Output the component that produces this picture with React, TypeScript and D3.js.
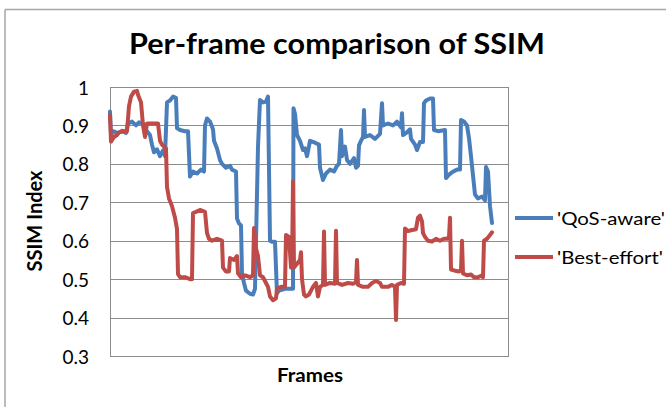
import * as d3 from "d3";

// SSIM per frame as [frame, ssim] breakpoints
const qosAware: [number, number][] = [
  [0, 0.936], [1, 0.875], [3, 0.885], [8, 0.88], [12, 0.886], [16, 0.88], [18, 0.905],
  [22, 0.91], [26, 0.9], [29, 0.908], [33, 0.905], [35, 0.89], [37, 0.885], [40, 0.875],
  [42, 0.85], [44, 0.83], [47, 0.838], [50, 0.82], [53, 0.835], [55, 0.82], [57, 0.96],
  [60, 0.965], [63, 0.975], [66, 0.972], [67, 0.893], [70, 0.888], [75, 0.885], [78, 0.885],
  [80, 0.767], [83, 0.78], [87, 0.775], [91, 0.785], [94, 0.78], [95, 0.9], [97, 0.918],
  [100, 0.91], [103, 0.89], [104, 0.86], [107, 0.84], [110, 0.81], [112, 0.8], [116, 0.79],
  [120, 0.795], [122, 0.785], [126, 0.78], [127, 0.658], [129, 0.645], [131, 0.64],
  [132, 0.515], [134, 0.49], [136, 0.47], [140, 0.462], [143, 0.46], [145, 0.475],
  [148, 0.845], [150, 0.966], [153, 0.96], [156, 0.962], [158, 0.975], [160, 0.6],
  [162, 0.597], [165, 0.597], [167, 0.463], [169, 0.47], [175, 0.475], [183, 0.475],
  [183.5, 0.945], [185, 0.93], [187, 0.875], [190, 0.86], [193, 0.836], [195, 0.84],
  [197, 0.82], [200, 0.86], [205, 0.855], [209, 0.85], [210, 0.79], [213, 0.758],
  [216, 0.775], [220, 0.785], [224, 0.78], [227, 0.795], [229, 0.8], [231, 0.888],
  [232, 0.82], [235, 0.845], [237, 0.81], [240, 0.8], [244, 0.815], [246, 0.79],
  [248, 0.795], [249, 0.848], [251, 0.86], [253, 0.87], [254, 0.94], [255, 0.87],
  [260, 0.875], [265, 0.865], [270, 0.878], [272, 0.958], [273, 0.9], [278, 0.905],
  [283, 0.9], [287, 0.91], [291, 0.895], [292, 0.932], [293, 0.875], [296, 0.88],
  [300, 0.89], [301, 0.865], [305, 0.85], [307, 0.836], [310, 0.857], [313, 0.857],
  [314, 0.958], [316, 0.965], [320, 0.97], [323, 0.97], [324, 0.888], [328, 0.885],
  [335, 0.888], [336, 0.763], [339, 0.772], [342, 0.778], [347, 0.785], [350, 0.785],
  [351, 0.914], [354, 0.91], [357, 0.9], [359, 0.867], [361, 0.82], [363, 0.77],
  [365, 0.72], [368, 0.71], [372, 0.715], [375, 0.705], [376, 0.792], [378, 0.78],
  [380, 0.69], [382, 0.646],
];

const bestEffort: [number, number][] = [
  [0, 0.927], [1, 0.858], [4, 0.87], [7, 0.875], [9, 0.882], [14, 0.885], [17, 0.885],
  [19, 0.95], [21, 0.975], [24, 0.988], [27, 0.99], [28, 0.98], [31, 0.96], [33, 0.9],
  [35, 0.87], [37, 0.905], [42, 0.905], [48, 0.905], [50, 0.86], [52, 0.85], [56, 0.84],
  [57, 0.74], [59, 0.71], [62, 0.69], [65, 0.66], [67, 0.63], [68, 0.513], [70, 0.505],
  [75, 0.505], [80, 0.5], [82, 0.5], [83, 0.672], [86, 0.675], [90, 0.68], [95, 0.675],
  [97, 0.62], [99, 0.605], [102, 0.6], [107, 0.605], [112, 0.6], [113, 0.53], [116, 0.52],
  [119, 0.52], [120, 0.555], [124, 0.55], [127, 0.56], [128, 0.515], [131, 0.505],
  [135, 0.51], [140, 0.505], [143, 0.51], [144, 0.633], [146, 0.58], [148, 0.56],
  [150, 0.51], [153, 0.505], [156, 0.49], [158, 0.48], [160, 0.455], [163, 0.445],
  [166, 0.45], [167, 0.475], [171, 0.48], [175, 0.48], [176, 0.615], [179, 0.61],
  [181, 0.53], [182, 0.53], [183, 0.754], [184, 0.53], [187, 0.54], [190, 0.55],
  [191, 0.57], [192, 0.5], [194, 0.46], [196, 0.455], [199, 0.46], [201, 0.47],
  [203, 0.48], [206, 0.49], [208, 0.455], [210, 0.48], [213, 0.485], [214, 0.624],
  [215, 0.485], [220, 0.49], [225, 0.488], [226, 0.626], [227, 0.49], [232, 0.485],
  [238, 0.49], [243, 0.488], [246, 0.492], [247, 0.55], [248, 0.485], [253, 0.48],
  [258, 0.48], [262, 0.49], [266, 0.495], [270, 0.49], [272, 0.48], [278, 0.48],
  [282, 0.485], [285, 0.48], [286, 0.394], [287, 0.485], [291, 0.49], [294, 0.488],
  [295, 0.632], [298, 0.625], [302, 0.628], [306, 0.63], [308, 0.66], [310, 0.665],
  [312, 0.65], [313, 0.62], [315, 0.61], [318, 0.6], [322, 0.598], [326, 0.605],
  [330, 0.6], [334, 0.605], [337, 0.605], [339, 0.61], [340, 0.66], [341, 0.525],
  [345, 0.522], [349, 0.52], [351, 0.522], [352, 0.6], [353, 0.515], [357, 0.51],
  [361, 0.512], [364, 0.505], [368, 0.505], [372, 0.51], [373, 0.505], [374, 0.6],
  [377, 0.605], [380, 0.615], [382, 0.622],
];

const FRAME_COUNT = 398;
const yTicks = [0.3, 0.4, 0.5, 0.6, 0.7, 0.8, 0.9, 1];
const yTickLabels = ["0.3", "0.4", "0.5", "0.6", "0.7", "0.8", "0.9", "1"];

const seriesNames = ["'QoS-aware'", "'Best-effort'"];
const seriesColors = ["#4a7ebb", "#be4b48"];

const W = 666;
const H = 407;
const plot = { left: 110, top: 87, width: 398, height: 269 };
const FONT = "Lato, 'Open Sans', sans-serif";

export default function App() {
  const x = d3.scaleLinear().domain([0, FRAME_COUNT]).range([plot.left, plot.left + plot.width]);
  const y = d3.scaleLinear().domain([0.3, 1]).range([plot.top + plot.height, plot.top]);

  const line = d3
    .line<[number, number]>()
    .x((d) => x(d[0]))
    .y((d) => y(d[1]));

  const series = [qosAware, bestEffort];
  // legend labels are a touch wider than Lato draws them
  const legendWidths = [108, 106];

  return (
    <div style={{ position: "absolute", left: 0, top: 0 }}>
      <svg width={W} height={H} style={{ display: "block", background: "#fff" }}>
        {/* chart frame, only top and left edges show */}
        <line x1={5} x2={W} y1={9.5} y2={9.5} stroke="#a6a6a6" strokeWidth={1.5} />
        <line x1={5} x2={5} y1={9.5} y2={H} stroke="#a6a6a6" strokeWidth={1.5} />

        <text
          x={337}
          y={54}
          textAnchor="middle"
          fontFamily={FONT}
          fontWeight="bold"
          fontSize={28}
          textLength={416}
          lengthAdjust="spacingAndGlyphs"
          fill="#000"
        >
          Per-frame comparison of SSIM
        </text>

        {/* gridlines */}
        {yTicks.map((t) => (
          <line
            key={t}
            x1={plot.left}
            x2={plot.left + plot.width}
            y1={Math.round(y(t)) + 0.5}
            y2={Math.round(y(t)) + 0.5}
            stroke="#8c8c8c"
            strokeWidth={1}
          />
        ))}
        <rect
          x={plot.left + 0.5}
          y={Math.round(y(1)) + 0.5}
          width={plot.width}
          height={Math.round(y(0.3)) - Math.round(y(1))}
          fill="none"
          stroke="#8c8c8c"
          strokeWidth={1}
        />

        {/* y tick labels */}
        {yTicks.map((t, i) => (
          <text
            key={t}
            x={89}
            y={y(t)}
            textAnchor="end"
            dominantBaseline="central"
            fontFamily={FONT}
            fontSize={19}
            fill="#000"
          >
            {yTickLabels[i]}
          </text>
        ))}

        <text
          transform={`translate(34,${221}) rotate(-90)`}
          textAnchor="middle"
          dominantBaseline="central"
          fontFamily={FONT}
          fontWeight="bold"
          fontSize={20}
          fill="#000"
        >
          SSIM Index
        </text>

        <text
          x={310}
          y={382}
          textAnchor="middle"
          fontFamily={FONT}
          fontWeight="bold"
          fontSize={19}
          textLength={66}
          lengthAdjust="spacingAndGlyphs"
          fill="#000"
        >
          Frames
        </text>

        {/* series */}
        {series.map((s, i) => (
          <path
            key={i}
            d={line(s) ?? ""}
            fill="none"
            stroke={seriesColors[i]}
            strokeWidth={4}
            strokeLinejoin="round"
            strokeLinecap="round"
          />
        ))}

        {/* legend */}
        {seriesNames.map((name, i) => (
          <g key={name} transform={`translate(515,${218 + i * 39})`}>
            <line x1={0} x2={38} y1={0} y2={0} stroke={seriesColors[i]} strokeWidth={4} />
            <text
              x={42}
              y={0}
              dominantBaseline="central"
              fontFamily={FONT}
              fontSize={18}
              textLength={legendWidths[i]}
              lengthAdjust="spacingAndGlyphs"
              fill="#000"
            >
              {name}
            </text>
          </g>
        ))}
      </svg>
    </div>
  );
}
